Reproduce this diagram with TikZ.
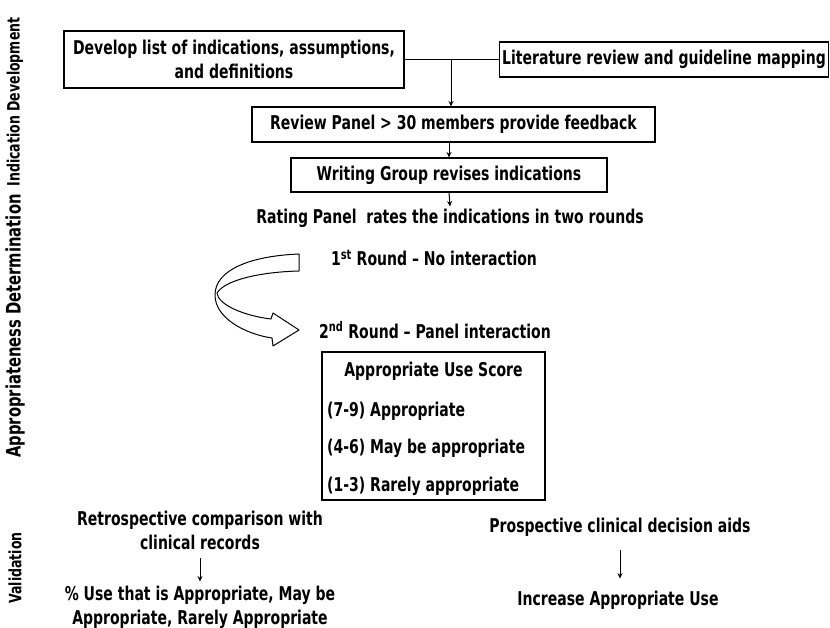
\documentclass[tikz,border=0pt]{standalone}
\usepackage{fontspec}
\setmainfont{DejaVu Sans Condensed}[FakeStretch=0.82]
\usetikzlibrary{arrows.meta}
\begin{document}
\begin{tikzpicture}[x=1pt,y=-1pt,
  every node/.style={font=\fontsize{19}{24}\selectfont\bfseries, inner sep=2pt},
  box/.style={draw, line width=1.1pt, align=center},
  txt/.style={align=center},
  side/.style={rotate=90, font=\fontsize{17}{20}\selectfont\bfseries},
  arr/.style={line width=1pt, -{Stealth[length=5.5pt,width=5pt]}},
  ln/.style={line width=1.1pt}]
\useasboundingbox (0,0) rectangle (830,628);
% side labels
\node[side] (s1) at (15,102) {Indication Development};
\node[side, font=\fontsize{20}{22}\selectfont\bfseries] (s2) at (15,326) {Appropriateness Determination};
\node[side] (s3) at (15,568) {Validation};
% boxes
\node[box, minimum width=340pt, minimum height=57pt] (b1) at (234,59.5) {Develop list of indications, assumptions,\\and definitions};
\node[box, minimum width=329pt, minimum height=35pt] (b2) at (664,59.5) {Literature review and guideline mapping};
\node[box, minimum width=403pt, minimum height=35pt] (b3) at (453.5,124.5) {Review Panel > 30 members provide feedback};
\node[box, minimum width=316pt, minimum height=34pt] (b4) at (449,175) {Writing Group revises indications};
\node[txt] (rate) at (450,218) {Rating Panel\ \ rates the indications in two rounds};
\node[txt] (r1) at (434,258) {1\textsuperscript{st} Round -- No interaction};
\node[txt] (r2) at (435,330) {2\textsuperscript{nd} Round -- Panel interaction};
\node[box, minimum width=223pt, minimum height=148pt] (b5) at (433.5,426) {};
\node[txt] (t0) at (433.5,371) {Appropriate Use Score};
\node[anchor=west] (t1) at (325,411) {(7-9) Appropriate};
\node[anchor=west] (t2) at (325,448) {(4-6) May be appropriate};
\node[anchor=west] (t3) at (325,486) {(1-3) Rarely appropriate};
% validation
\node[txt] (v1) at (200,530) {Retrospective comparison with\\clinical records};
\node[txt] (v2) at (200,607) {\% Use that is Appropriate, May be\\Appropriate, Rarely Appropriate};
\node[txt] (p1) at (620,527) {Prospective clinical decision aids};
\node[txt] (p2) at (618,600) {Increase Appropriate Use};
% connectors
\coordinate (j) at (451,59.5);
\draw[ln] (b1.east) -- (b2.west);
\draw[arr] (j) -- (j |- b3.north);
\draw[arr] (b3.south -| b4.north) -- (b4.north);
\draw[arr] (b4.south) -- (rate.north);
\draw[arr, shorten <=6pt, shorten >=2pt] (v1.south) -- (v1.south |- v2.north);
\draw[arr, shorten <=12pt, shorten >=10pt] (p1.south) -- (p1.south |- p2.north);
% curved block arrow
\draw[line width=1pt, fill=white, line join=round]
  (299,254) .. controls (250,256) and (215,270) .. (215,295)
  .. controls (215,318) and (245,334) .. (272,338)
  -- (273,346) -- (299,330) -- (273,313) -- (271,319)
  .. controls (245,316) and (218,305) .. (217,293)
  .. controls (225,280) and (260,272) .. (299,271) -- cycle;
\end{tikzpicture}
\end{document}
